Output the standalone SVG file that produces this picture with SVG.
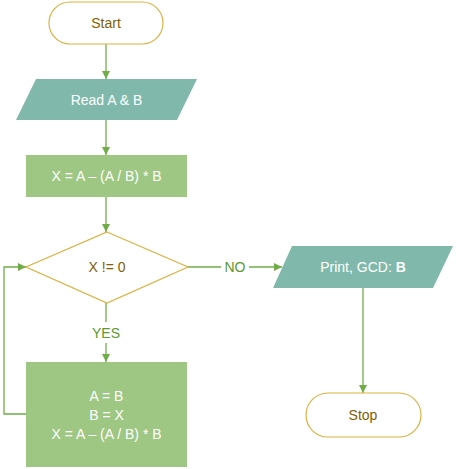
<svg xmlns="http://www.w3.org/2000/svg" width="457" height="469" viewBox="0 0 457 469">
<defs>
<marker id="arr" viewBox="0 0 10 10" refX="10" refY="5" markerWidth="8" markerHeight="8" markerUnits="userSpaceOnUse" orient="auto">
<path d="M0,0 L10,5 L0,10 z" fill="#70AD47"/>
</marker>
</defs>
<style>
text{font-family:"Liberation Sans",Arial,sans-serif;font-size:14px;text-anchor:middle;dominant-baseline:central}
.term{fill:#fff;stroke:#DDB13F;stroke-width:1.2}
.termt{fill:#7F6000}
.io{fill:#80B9AB}
.proc{fill:#9DC783}
.light{fill:#fff}
.dec{fill:#fff;stroke:#DDB13F;stroke-width:1.2}
.conn{fill:none;stroke:#70AD47;stroke-width:1.3}
.lbl{fill:#5A9A2E}
</style>
<g id="connectors">
<line class="conn" x1="106" y1="44" x2="106" y2="79" marker-end="url(#arr)"/>
<line class="conn" x1="106" y1="120" x2="106" y2="155" marker-end="url(#arr)"/>
<line class="conn" x1="106" y1="197" x2="106" y2="232" marker-end="url(#arr)"/>
<line class="conn" x1="106" y1="303" x2="106" y2="322"/>
<line class="conn" x1="106" y1="343" x2="106" y2="362" marker-end="url(#arr)"/>
<text class="lbl" x="106" y="333">YES</text>
<polyline class="conn" points="26,414 4,414 4,267 26,267" marker-end="url(#arr)"/>
<line class="conn" x1="188" y1="267" x2="221" y2="267"/>
<text class="lbl" x="235" y="267">NO</text>
<line class="conn" x1="249" y1="267" x2="282" y2="267" marker-end="url(#arr)"/>
<line class="conn" x1="363" y1="288" x2="363" y2="393" marker-end="url(#arr)"/>
</g>
<g id="start">
<rect class="term" x="49" y="2" width="114" height="42" rx="21"/>
<text class="termt" x="106" y="23">Start</text>
</g>
<g id="read">
<polygon class="io" points="36,79 197,79 177,120 16,120"/>
<text class="light" x="106.5" y="99.5">Read A &amp; B</text>
</g>
<g id="compute">
<rect class="proc" x="26" y="155" width="161" height="42"/>
<text class="light" x="106.5" y="176">X = A – (A / B) * B</text>
</g>
<g id="decision">
<polygon class="dec" points="107,232 188,267 107,303 26,267"/>
<text class="termt" x="107" y="267">X != 0</text>
</g>
<g id="update">
<rect class="proc" x="26" y="362" width="161" height="105"/>
<text class="light" x="106.5" y="396">A = B</text>
<text class="light" x="106.5" y="415">B = X</text>
<text class="light" x="106.5" y="434">X = A – (A / B) * B</text>
</g>
<g id="print">
<polygon class="io" points="292,246 453,246 433,288 273,288"/>
<text class="light" x="363" y="267">Print, GCD: <tspan font-weight="bold">B</tspan></text>
</g>
<g id="stop">
<rect class="term" x="306" y="393" width="115" height="44" rx="22"/>
<text class="termt" x="363" y="415">Stop</text>
</g>
</svg>
